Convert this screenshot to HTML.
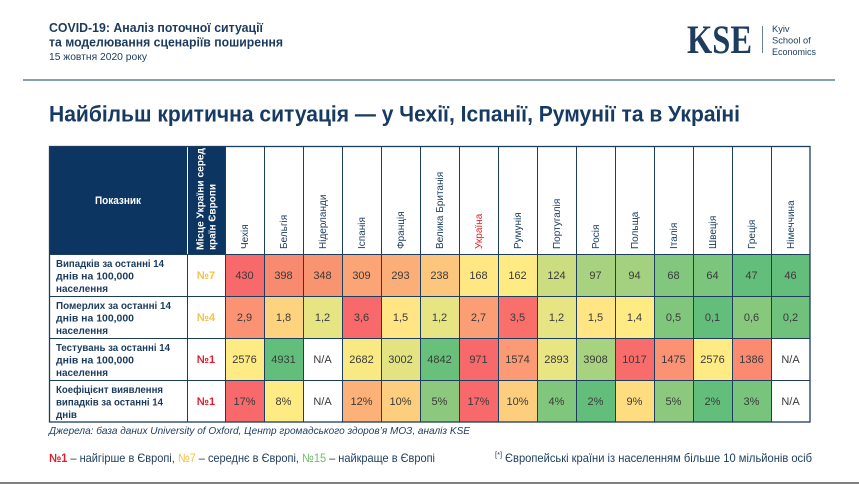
<!DOCTYPE html>
<html><head><meta charset="utf-8"><style>
html,body{margin:0;padding:0;background:#fff;width:859px;height:484px;overflow:hidden}
svg{display:block}
text{font-family:"Liberation Sans","DejaVu Sans",sans-serif}
.n{font-size:11px;fill:#3a3a3a;text-anchor:middle}
.lb{font-size:10.5px;font-weight:bold;fill:#1b3b5e}
.cn{font-size:10px;fill:#1b3b5e}
</style></head><body>
<svg width="859" height="484" viewBox="0 0 859 484" xmlns="http://www.w3.org/2000/svg">
<!-- header -->
<text x="49" y="32" font-size="12.5" font-weight="bold" fill="#1b3b5e" textLength="214" lengthAdjust="spacingAndGlyphs">COVID-19: Аналіз поточної ситуації</text>
<text x="49" y="46.5" font-size="12.5" font-weight="bold" fill="#1b3b5e" textLength="234" lengthAdjust="spacingAndGlyphs">та моделювання сценаріїв поширення</text>
<text x="49" y="60" font-size="10" fill="#1b3b5e" textLength="98" lengthAdjust="spacingAndGlyphs">15 жовтня 2020 року</text>
<!-- logo -->
<text x="687" y="53" font-size="40" font-weight="bold" fill="#1d3c5e" textLength="65" lengthAdjust="spacingAndGlyphs" style="font-family:'Liberation Serif',serif">KSE</text>
<line x1="762.5" y1="26" x2="762.5" y2="53" stroke="#6b7f95" stroke-width="1"/>
<text x="772" y="32" font-size="9.3" fill="#1d3c5e">Kyiv</text>
<text x="772" y="43.5" font-size="9.3" fill="#1d3c5e">School of</text>
<text x="772" y="55" font-size="9.3" fill="#1d3c5e" textLength="44" lengthAdjust="spacingAndGlyphs">Economics</text>
<line x1="23" y1="80" x2="835" y2="80" stroke="#5a7ea3" stroke-width="1.6"/>
<!-- title -->
<text x="49" y="121.5" font-size="22" font-weight="bold" fill="#173a63" textLength="691" lengthAdjust="spacingAndGlyphs">Найбільш критична ситуація — у Чехії, Іспанії, Румунії та в Україні</text>

<!-- table header -->
<rect x="49" y="146" width="138" height="108" fill="#0d3561"/>
<rect x="188" y="146" width="37" height="108" fill="#0d3561"/>
<text x="118" y="204" font-size="11" font-weight="bold" fill="#fff" text-anchor="middle" textLength="46" lengthAdjust="spacingAndGlyphs">Показник</text>
<text transform="translate(203.5,250) rotate(-90)" font-size="10" font-weight="bold" fill="#fff" textLength="102" lengthAdjust="spacingAndGlyphs">Місце України серед</text>
<text transform="translate(215.5,250) rotate(-90)" font-size="10" font-weight="bold" fill="#fff">країн Європи</text>

<g class="cn">
<text class="cn" transform="translate(248,249) rotate(-90)">Чехія</text>
<text class="cn" transform="translate(287,249) rotate(-90)">Бельгія</text>
<text class="cn" transform="translate(326,249) rotate(-90)">Нідерланди</text>
<text class="cn" transform="translate(365,249) rotate(-90)">Іспанія</text>
<text class="cn" transform="translate(404,249) rotate(-90)">Франція</text>
<text class="cn" transform="translate(443,249) rotate(-90)">Велика Британія</text>
<text class="cn" transform="translate(482,249) rotate(-90)" style="fill:#e0202a">Україна</text>
<text class="cn" transform="translate(521,249) rotate(-90)">Румунія</text>
<text class="cn" transform="translate(560,249) rotate(-90)">Португалія</text>
<text class="cn" transform="translate(599,249) rotate(-90)">Росія</text>
<text class="cn" transform="translate(638,249) rotate(-90)">Польща</text>
<text class="cn" transform="translate(677,249) rotate(-90)">Італія</text>
<text class="cn" transform="translate(716,249) rotate(-90)">Швеція</text>
<text class="cn" transform="translate(755,249) rotate(-90)">Греція</text>
<text class="cn" transform="translate(794,249) rotate(-90)">Німеччина</text>
</g>

<!-- row 1 -->
<g>
<rect x="225" y="254" width="39" height="42" fill="#f8696b"/>
<rect x="264" y="254" width="39" height="42" fill="#f88a70"/>
<rect x="303" y="254" width="39" height="42" fill="#f99471"/>
<rect x="342" y="254" width="39" height="42" fill="#fba475"/>
<rect x="381" y="254" width="39" height="42" fill="#fcae78"/>
<rect x="420" y="254" width="39" height="42" fill="#fdc67d"/>
<rect x="459" y="254" width="39" height="42" fill="#ffe883"/>
<rect x="498" y="254" width="39" height="42" fill="#ffeb84"/>
<rect x="537" y="254" width="39" height="42" fill="#ccdc81"/>
<rect x="576" y="254" width="39" height="42" fill="#a8d27f"/>
<rect x="615" y="254" width="39" height="42" fill="#a4d17f"/>
<rect x="654" y="254" width="39" height="42" fill="#81c77d"/>
<rect x="693" y="254" width="39" height="42" fill="#7bc57c"/>
<rect x="732" y="254" width="39" height="42" fill="#64be7b"/>
<rect x="771" y="254" width="39" height="42" fill="#63be7b"/>
</g>
<!-- row 2 -->
<g>
<rect x="225" y="296" width="39" height="42" fill="#fa9273"/>
<rect x="264" y="296" width="39" height="42" fill="#fed37f"/>
<rect x="303" y="296" width="39" height="42" fill="#e7e483"/>
<rect x="342" y="296" width="39" height="42" fill="#f8696b"/>
<rect x="381" y="296" width="39" height="42" fill="#ffe583"/>
<rect x="420" y="296" width="39" height="42" fill="#e7e483"/>
<rect x="459" y="296" width="39" height="42" fill="#fb9e75"/>
<rect x="498" y="296" width="39" height="42" fill="#f86f6c"/>
<rect x="537" y="296" width="39" height="42" fill="#e7e483"/>
<rect x="576" y="296" width="39" height="42" fill="#ffe583"/>
<rect x="615" y="296" width="39" height="42" fill="#ffeb84"/>
<rect x="654" y="296" width="39" height="42" fill="#80c67c"/>
<rect x="693" y="296" width="39" height="42" fill="#63be7b"/>
<rect x="732" y="296" width="39" height="42" fill="#87c87d"/>
<rect x="771" y="296" width="39" height="42" fill="#6fc17c"/>
</g>
<!-- row 3 -->
<g>
<rect x="225" y="338" width="39" height="42" fill="#ffeb84"/>
<rect x="264" y="338" width="39" height="42" fill="#63be7b"/>
<rect x="342" y="338" width="39" height="42" fill="#f8e983"/>
<rect x="381" y="338" width="39" height="42" fill="#e3e382"/>
<rect x="420" y="338" width="39" height="42" fill="#69c07b"/>
<rect x="459" y="338" width="39" height="42" fill="#f8696b"/>
<rect x="498" y="338" width="39" height="42" fill="#fb9a74"/>
<rect x="537" y="338" width="39" height="42" fill="#eae583"/>
<rect x="576" y="338" width="39" height="42" fill="#a7d27f"/>
<rect x="615" y="338" width="39" height="42" fill="#f86d6c"/>
<rect x="654" y="338" width="39" height="42" fill="#fa9273"/>
<rect x="693" y="338" width="39" height="42" fill="#ffeb84"/>
<rect x="732" y="338" width="39" height="42" fill="#fa8b71"/>
</g>
<!-- row 4 -->
<g>
<rect x="225" y="380" width="39" height="42" fill="#f8696b"/>
<rect x="264" y="380" width="39" height="42" fill="#ffeb84"/>
<rect x="342" y="380" width="39" height="42" fill="#fcb179"/>
<rect x="381" y="380" width="39" height="42" fill="#fdce7e"/>
<rect x="420" y="380" width="39" height="42" fill="#8cc87d"/>
<rect x="459" y="380" width="39" height="42" fill="#f8696b"/>
<rect x="498" y="380" width="39" height="42" fill="#fdce7e"/>
<rect x="537" y="380" width="39" height="42" fill="#80c67c"/>
<rect x="576" y="380" width="39" height="42" fill="#63be7b"/>
<rect x="615" y="380" width="39" height="42" fill="#fedd81"/>
<rect x="654" y="380" width="39" height="42" fill="#8cc87d"/>
<rect x="693" y="380" width="39" height="42" fill="#63be7b"/>
<rect x="732" y="380" width="39" height="42" fill="#78c47c"/>
</g>

<!-- grid -->
<g stroke="#1d3d5f" stroke-width="1">
<line x1="187.5" y1="254" x2="187.5" y2="422"/>
<line x1="225.5" y1="146" x2="225.5" y2="422"/>
<line x1="264.5" y1="146" x2="264.5" y2="422"/>
<line x1="303.5" y1="146" x2="303.5" y2="422"/>
<line x1="342.5" y1="146" x2="342.5" y2="422"/>
<line x1="381.5" y1="146" x2="381.5" y2="422"/>
<line x1="420.5" y1="146" x2="420.5" y2="422"/>
<line x1="459.5" y1="146" x2="459.5" y2="422"/>
<line x1="498.5" y1="146" x2="498.5" y2="422"/>
<line x1="537.5" y1="146" x2="537.5" y2="422"/>
<line x1="576.5" y1="146" x2="576.5" y2="422"/>
<line x1="615.5" y1="146" x2="615.5" y2="422"/>
<line x1="654.5" y1="146" x2="654.5" y2="422"/>
<line x1="693.5" y1="146" x2="693.5" y2="422"/>
<line x1="732.5" y1="146" x2="732.5" y2="422"/>
<line x1="771.5" y1="146" x2="771.5" y2="422"/>
<line x1="49" y1="254.5" x2="810" y2="254.5"/>
<line x1="49" y1="296.5" x2="810" y2="296.5"/>
<line x1="49" y1="338.5" x2="810" y2="338.5"/>
<line x1="49" y1="380.5" x2="810" y2="380.5"/>
</g>
<rect x="49.5" y="146.5" width="760.5" height="275.5" fill="none" stroke="#1d3d5f" stroke-width="1.3"/>

<!-- row labels -->
<text class="lb" x="56" y="267" textLength="108" lengthAdjust="spacingAndGlyphs">Випадків за останні 14</text>
<text class="lb" x="56" y="279.5" textLength="78" lengthAdjust="spacingAndGlyphs">днів на 100,000</text>
<text class="lb" x="56" y="292" textLength="52" lengthAdjust="spacingAndGlyphs">населення</text>

<text class="lb" x="56" y="309" textLength="115" lengthAdjust="spacingAndGlyphs">Померлих за останні 14</text>
<text class="lb" x="56" y="321.5" textLength="78" lengthAdjust="spacingAndGlyphs">днів на 100,000</text>
<text class="lb" x="56" y="334" textLength="52" lengthAdjust="spacingAndGlyphs">населення</text>

<text class="lb" x="56" y="351" textLength="114" lengthAdjust="spacingAndGlyphs">Тестувань за останні 14</text>
<text class="lb" x="56" y="363.5" textLength="78" lengthAdjust="spacingAndGlyphs">днів на 100,000</text>
<text class="lb" x="56" y="376" textLength="52" lengthAdjust="spacingAndGlyphs">населення</text>

<text class="lb" x="56" y="393" textLength="107" lengthAdjust="spacingAndGlyphs">Коефіцієнт виявлення</text>
<text class="lb" x="56" y="405.5" textLength="107" lengthAdjust="spacingAndGlyphs">випадків за останні 14</text>
<text class="lb" x="56" y="418" textLength="21" lengthAdjust="spacingAndGlyphs">днів</text>

<!-- rank column -->
<g font-size="11" font-weight="bold" text-anchor="middle">
<text x="206" y="279" fill="#f5c242">№7</text>
<text x="206" y="321" fill="#f5c242">№4</text>
<text x="206" y="363" fill="#e01e2b">№1</text>
<text x="206" y="405" fill="#e01e2b">№1</text>
</g>

<!-- values -->
<g class="n">
<text class="n" x="244.5" y="279">430</text><text class="n" x="283.5" y="279">398</text><text class="n" x="322.5" y="279">348</text><text class="n" x="361.5" y="279">309</text><text class="n" x="400.5" y="279">293</text><text class="n" x="439.5" y="279">238</text><text class="n" x="478.5" y="279">168</text><text class="n" x="517.5" y="279">162</text><text class="n" x="556.5" y="279">124</text><text class="n" x="595.5" y="279">97</text><text class="n" x="634.5" y="279">94</text><text class="n" x="673.5" y="279">68</text><text class="n" x="712.5" y="279">64</text><text class="n" x="751.5" y="279">47</text><text class="n" x="790.5" y="279">46</text>

<text class="n" x="244.5" y="321">2,9</text><text class="n" x="283.5" y="321">1,8</text><text class="n" x="322.5" y="321">1,2</text><text class="n" x="361.5" y="321">3,6</text><text class="n" x="400.5" y="321">1,5</text><text class="n" x="439.5" y="321">1,2</text><text class="n" x="478.5" y="321">2,7</text><text class="n" x="517.5" y="321">3,5</text><text class="n" x="556.5" y="321">1,2</text><text class="n" x="595.5" y="321">1,5</text><text class="n" x="634.5" y="321">1,4</text><text class="n" x="673.5" y="321">0,5</text><text class="n" x="712.5" y="321">0,1</text><text class="n" x="751.5" y="321">0,6</text><text class="n" x="790.5" y="321">0,2</text>

<text class="n" x="244.5" y="363">2576</text><text class="n" x="283.5" y="363">4931</text><text class="n" x="322.5" y="363">N/A</text><text class="n" x="361.5" y="363">2682</text><text class="n" x="400.5" y="363">3002</text><text class="n" x="439.5" y="363">4842</text><text class="n" x="478.5" y="363">971</text><text class="n" x="517.5" y="363">1574</text><text class="n" x="556.5" y="363">2893</text><text class="n" x="595.5" y="363">3908</text><text class="n" x="634.5" y="363">1017</text><text class="n" x="673.5" y="363">1475</text><text class="n" x="712.5" y="363">2576</text><text class="n" x="751.5" y="363">1386</text><text class="n" x="790.5" y="363">N/A</text>

<text class="n" x="244.5" y="405">17%</text><text class="n" x="283.5" y="405">8%</text><text class="n" x="322.5" y="405">N/A</text><text class="n" x="361.5" y="405">12%</text><text class="n" x="400.5" y="405">10%</text><text class="n" x="439.5" y="405">5%</text><text class="n" x="478.5" y="405">17%</text><text class="n" x="517.5" y="405">10%</text><text class="n" x="556.5" y="405">4%</text><text class="n" x="595.5" y="405">2%</text><text class="n" x="634.5" y="405">9%</text><text class="n" x="673.5" y="405">5%</text><text class="n" x="712.5" y="405">2%</text><text class="n" x="751.5" y="405">3%</text><text class="n" x="790.5" y="405">N/A</text>
</g>

<!-- footer -->
<text x="49" y="434" font-size="10.5" font-style="italic" fill="#1b3b5e" textLength="421" lengthAdjust="spacingAndGlyphs">Джерела: база даних University of Oxford, Центр громадського здоров’я МОЗ, аналіз KSE</text>
<text x="49" y="462" font-size="12" fill="#1b3b5e" textLength="386" lengthAdjust="spacingAndGlyphs"><tspan fill="#e01e2b" font-weight="bold">№1</tspan> – найгірше в Європі, <tspan fill="#f5c242">№7</tspan> – середнє в Європі, <tspan fill="#6bbf6b">№15</tspan> – найкраще в Європі</text>
<text x="495" y="457" font-size="7.5" fill="#1b3b5e">[*]</text>
<text x="505" y="462" font-size="12" fill="#1b3b5e" textLength="307" lengthAdjust="spacingAndGlyphs">Європейські країни із населенням більше 10 мільйонів осіб</text>
<line x1="0" y1="483" x2="859" y2="483" stroke="#808080" stroke-width="2"/>
</svg>
</body></html>
